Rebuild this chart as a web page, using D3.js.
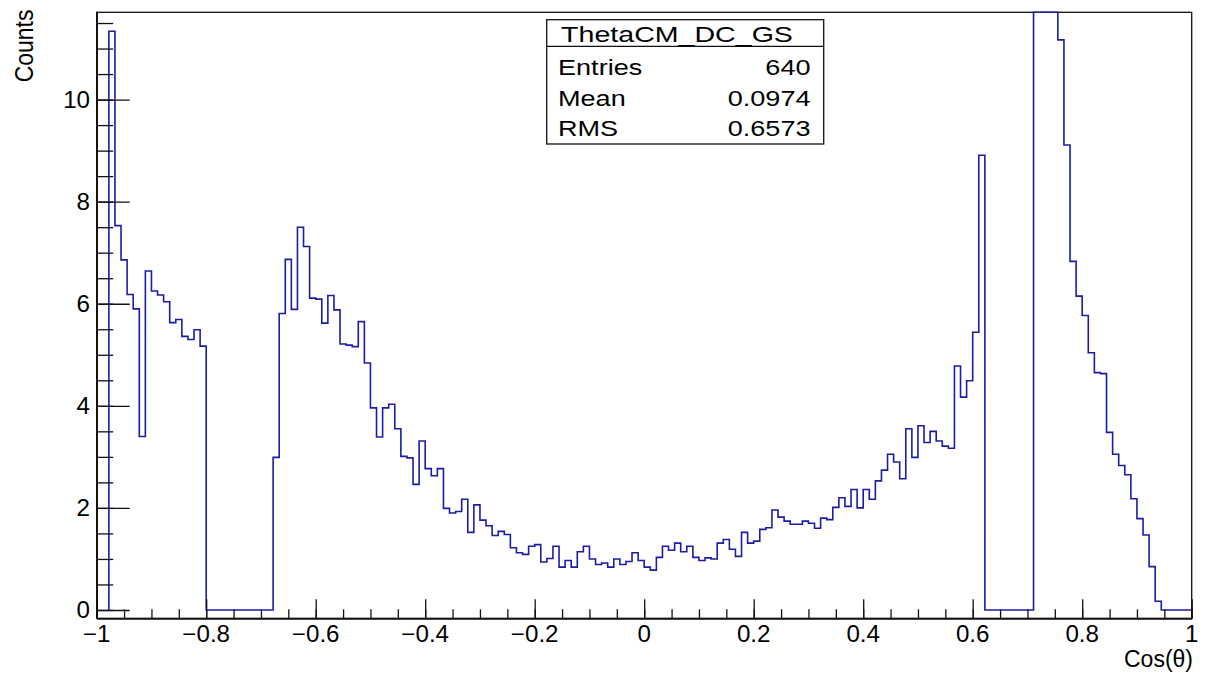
<!DOCTYPE html>
<html>
<head>
<meta charset="utf-8">
<script src="https://cdn.jsdelivr.net/npm/d3@7"></script>
<style>
  html, body { margin: 0; padding: 0; background: #fff; }
  svg { display: block; }
  text { font-family: "Liberation Sans", Arial, Helvetica, sans-serif; fill: #000; }
</style>
</head>
<body>
<svg id="chart" width="1208" height="675"></svg>
<script>
// Histogram ThetaCM_DC_GS: 180 equal bins over cos(theta) in [-1, 1].
// null = bin outside the filled range (not drawn).
const histLow = -1;
const histHigh = 1;
const nBins = 180;
const counts = [
  /*   0 */ null, null, 11.34, 7.53, 6.86, 6.18, 5.90, 3.40, 6.64, 6.25,
  /*  10 */ 6.17, 6.04, 5.63, 5.69, 5.36, 5.30, 5.49, 5.17, 0, 0,
  /*  20 */ 0, 0, 0, 0, 0, 0, 0, 0, 0, 2.99,
  /*  30 */ 5.81, 6.87, 5.89, 7.50, 7.12, 6.11, 6.09, 5.62, 6.16, 5.88,
  /*  40 */ 5.21, 5.19, 5.16, 5.65, 4.84, 3.96, 3.39, 3.96, 4.03, 3.55,
  /*  50 */ 3.01, 2.98, 2.46, 3.31, 2.77, 2.63, 2.77, 1.99, 1.90, 1.93,
  /*  60 */ 2.17, 1.52, 2.06, 1.76, 1.65, 1.46, 1.54, 1.48, 1.22, 1.12,
  /*  70 */ 1.09, 1.25, 1.28, 0.94, 1.01, 1.25, 0.84, 0.97, 0.84, 1.14,
  /*  80 */ 1.25, 1.00, 0.89, 0.92, 0.84, 1.00, 0.89, 0.95, 1.12, 0.97,
  /*  90 */ 0.84, 0.78, 1.03, 1.25, 1.17, 1.31, 1.14, 1.25, 1.03, 0.97,
  /* 100 */ 1.02, 1.00, 1.31, 1.38, 1.19, 1.05, 1.52, 1.31, 1.35, 1.58,
  /* 110 */ 1.61, 1.96, 1.82, 1.74, 1.68, 1.68, 1.74, 1.70, 1.60, 1.80,
  /* 120 */ 1.77, 2.01, 2.20, 2.03, 2.36, 2.00, 2.36, 2.17, 2.53, 2.74,
  /* 130 */ 3.05, 2.90, 2.57, 3.55, 2.99, 3.61, 3.28, 3.50, 3.31, 3.21,
  /* 140 */ 3.17, 4.78, 4.17, 4.49, 5.44, 8.91, 0, 0, 0, 0,
  /* 150 */ 0, 0, 0, 0, 28, 48, 56, 38, 11.17, 9.11,
  /* 160 */ 6.83, 6.15, 5.77, 5.04, 4.65, 4.63, 3.48, 3.05, 2.83, 2.65,
  /* 170 */ 2.18, 1.79, 1.47, 0.85, 0.17, 0, 0, 0, 0, 0
];

const histTitle = "ThetaCM_DC_GS";
const statNames = ["Entries", "Mean", "RMS"];
const statValues = ["640", "0.0974", "0.6573"];

const xTicks = [-1, -0.8, -0.6, -0.4, -0.2, 0, 0.2, 0.4, 0.6, 0.8, 1];
const xTickLabels = ["\u22121", "\u22120.8", "\u22120.6", "\u22120.4", "\u22120.2", "0", "0.2", "0.4", "0.6", "0.8", "1"];
const yTicks = [0, 2, 4, 6, 8, 10];
const yTickLabels = ["0", "2", "4", "6", "8", "10"];
const yRange = [-0.163, 11.71];
const xTitle = "Cos(\u03b8)";
const yTitle = "Counts";

// ---- layout ----
const frame = { left: 96.7, right: 1191.7, top: 12.3, bottom: 618.3 };
const axisColor = "#111";
const lineColor = "#1c1ca8";

const svg = d3.select("#chart");

const x = d3.scaleLinear().domain([histLow, histHigh]).range([frame.left, frame.right]);
const y = d3.scaleLinear().domain(yRange).range([frame.bottom, frame.top]).clamp(true);

// text drawn with an optional horizontal stretch
function label(g, px, py, str, size, anchor, sx) {
  return g.append("text")
    .attr("transform", `translate(${px},${py}) scale(${sx || 1},1)`)
    .attr("text-anchor", anchor)
    .style("font-size", size + "px")
    .text(str);
}

// frame
svg.append("rect")
  .attr("x", frame.left).attr("y", frame.top)
  .attr("width", frame.right - frame.left).attr("height", frame.bottom - frame.top)
  .attr("fill", "#fff").attr("stroke", axisColor).attr("stroke-width", 1.3);

// histogram outline (step path), values above the frame are pinned to the top
const binW = (histHigh - histLow) / nBins;
const bins = counts
  .map((c, i) => ({ lo: histLow + i * binW, hi: histLow + (i + 1) * binW, c }))
  .filter(b => b.c !== null);
const pts = [[bins[0].lo, 0]];
bins.forEach(b => { pts.push([b.lo, b.c]); pts.push([b.hi, b.c]); });
pts.push([bins[bins.length - 1].hi, 0]);

svg.append("path")
  .datum(pts)
  .attr("fill", "none")
  .attr("stroke", lineColor)
  .attr("stroke-width", 1.6)
  .attr("d", d3.line().x(d => x(d[0])).y(d => y(d[1])));

// axes: ticks point into the frame
function styleAxis(g) {
  g.selectAll("path").attr("stroke", axisColor).attr("stroke-width", 1.3);
  g.selectAll("line").attr("stroke", axisColor).attr("stroke-width", 1.3);
  g.selectAll("text").remove();
}

svg.append("g")
  .attr("transform", `translate(0,${frame.bottom})`)
  .call(d3.axisBottom(x).ticks(40).tickSizeInner(-9).tickSizeOuter(0).tickFormat(""))
  .call(styleAxis);
svg.append("g")
  .attr("transform", `translate(0,${frame.bottom})`)
  .call(d3.axisBottom(x).tickValues(xTicks).tickSizeInner(-19).tickSizeOuter(0).tickFormat(""))
  .call(styleAxis);

svg.append("g")
  .attr("transform", `translate(${frame.left},0)`)
  .call(d3.axisLeft(y).tickValues(d3.ticks(0, 11.5, 23)).tickSizeInner(-16.5).tickSizeOuter(0).tickFormat(""))
  .call(styleAxis);
svg.append("g")
  .attr("transform", `translate(${frame.left},0)`)
  .call(d3.axisLeft(y).tickValues(yTicks).tickSizeInner(-33).tickSizeOuter(0).tickFormat(""))
  .call(styleAxis);

// tick labels
const labels = svg.append("g");
xTicks.forEach((v, i) => label(labels, x(v), 641.5, xTickLabels[i], 23, "middle", 1.05));
yTicks.forEach((v, i) => label(labels, 90, y(v) + 8.5, yTickLabels[i], 23, "end", 1.05));

// axis titles
label(labels, 1193, 667, xTitle, 23, "end", 1.0);
labels.append("text")
  .attr("transform", "translate(32.7,9.5) rotate(-90) scale(1,1.15)")
  .attr("text-anchor", "end")
  .style("font-size", "23px")
  .text(yTitle);

// statistics box
const box = { left: 546.7, right: 823.7, top: 19.7, bottom: 144, split: 46.3 };
const stats = svg.append("g");
stats.append("rect")
  .attr("x", box.left).attr("y", box.top)
  .attr("width", box.right - box.left).attr("height", box.bottom - box.top)
  .attr("fill", "#fff").attr("stroke", axisColor).attr("stroke-width", 1.3);
stats.append("line")
  .attr("x1", box.left).attr("x2", box.right)
  .attr("y1", box.split).attr("y2", box.split)
  .attr("stroke", axisColor).attr("stroke-width", 1.3);
label(stats, 677, 42, histTitle, 21.5, "middle", 1.33);
const rowBase = [75.3, 106.3, 136.3];
statNames.forEach((name, i) => {
  label(stats, 558, rowBase[i], name, 21.5, "start", 1.26);
  label(stats, 810.5, rowBase[i], statValues[i], 21.5, "end", 1.26);
});
</script>
</body>
</html>
